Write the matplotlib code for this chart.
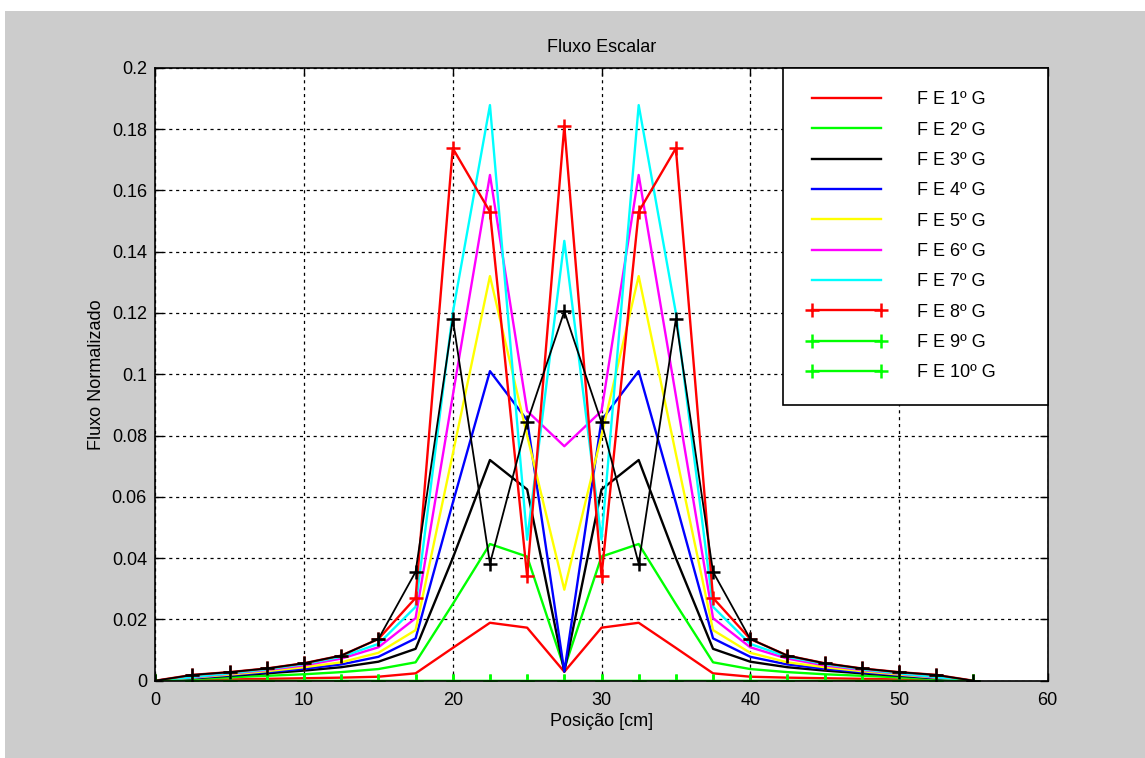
import matplotlib
matplotlib.use("Agg")
import matplotlib.pyplot as plt
from matplotlib.patches import Rectangle
from matplotlib.ticker import FixedLocator, FuncFormatter

plt.rcParams['font.family'] = ['Liberation Sans', 'DejaVu Sans']

# ---------------- data ----------------
positions = [0, 2.5, 5, 7.5, 10, 12.5, 15, 17.5, 20, 22.5, 25, 27.5,
             30, 32.5, 35, 37.5, 40, 42.5, 45, 47.5, 50, 52.5, 55]

g1 = [0, 0.0002, 0.0004, 0.0006, 0.0008, 0.0010, 0.0013, 0.0024, 0.0107, 0.0189, 0.0173, 0.0029,
      0.0173, 0.0189, 0.0107, 0.0024, 0.0013, 0.0010, 0.0008, 0.0006, 0.0004, 0.0002, 0]
g2 = [0, 0.0006, 0.0011, 0.0016, 0.0021, 0.0028, 0.0038, 0.0060, 0.0250, 0.0446, 0.0405, 0.0040,
      0.0405, 0.0446, 0.0250, 0.0060, 0.0038, 0.0028, 0.0021, 0.0016, 0.0011, 0.0006, 0]
g3 = [0, 0.0008, 0.0016, 0.0024, 0.0033, 0.0044, 0.0062, 0.0104, 0.0400, 0.0720, 0.0624, 0.0030,
      0.0624, 0.0720, 0.0400, 0.0104, 0.0062, 0.0044, 0.0033, 0.0024, 0.0016, 0.0008, 0]
g4 = [0, 0.0009, 0.0018, 0.0028, 0.0039, 0.0053, 0.0078, 0.0138, 0.0580, 0.1010, 0.0850, 0.0030,
      0.0850, 0.1010, 0.0580, 0.0138, 0.0078, 0.0053, 0.0039, 0.0028, 0.0018, 0.0009, 0]
g5 = [0, 0.0010, 0.0020, 0.0031, 0.0044, 0.0060, 0.0091, 0.0165, 0.0740, 0.1320, 0.0800, 0.0297,
      0.0800, 0.1320, 0.0740, 0.0165, 0.0091, 0.0060, 0.0044, 0.0031, 0.0020, 0.0010, 0]
g6 = [0, 0.0011, 0.0023, 0.0035, 0.0050, 0.0072, 0.0109, 0.0204, 0.0930, 0.1650, 0.0880, 0.0765,
      0.0880, 0.1650, 0.0930, 0.0204, 0.0109, 0.0072, 0.0050, 0.0035, 0.0023, 0.0011, 0]
g7 = [0, 0.0012, 0.0024, 0.0037, 0.0054, 0.0078, 0.0120, 0.0241, 0.1200, 0.1878, 0.0460, 0.1435,
      0.0460, 0.1878, 0.1200, 0.0241, 0.0120, 0.0078, 0.0054, 0.0037, 0.0024, 0.0012, 0]
g8 = [0, 0.0019, 0.0028, 0.0040, 0.0057, 0.0082, 0.0136, 0.0270, 0.1737, 0.1530, 0.0341, 0.1810,
      0.0341, 0.1530, 0.1737, 0.0270, 0.0136, 0.0082, 0.0057, 0.0040, 0.0028, 0.0019, 0]
g9 = [0, 0, 0, 0, 0, 0, 0, 0, 0, 0, 0, 0, 0, 0, 0, 0, 0, 0, 0, 0, 0, 0, 0]
g10 = [0, 0, 0, 0, 0, 0, 0, 0, 0, 0, 0, 0, 0, 0, 0, 0, 0, 0, 0, 0, 0, 0, 0]
extra = [0, 0.0019, 0.0028, 0.0040, 0.0057, 0.0082, 0.0136, 0.0355, 0.1180, 0.0382, 0.0843, 0.1205,
         0.0843, 0.0382, 0.1180, 0.0355, 0.0136, 0.0082, 0.0057, 0.0040, 0.0028, 0.0019, 0]

labels = ['F E 1º G', 'F E 2º G', 'F E 3º G', 'F E 4º G', 'F E 5º G',
          'F E 6º G', 'F E 7º G', 'F E 8º G', 'F E 9º G', 'F E 10º G']
series = [g1, g2, g3, g4, g5, g6, g7, g8, g9, g10]
colors = ['#ff0000', '#00ff00', '#000000', '#0000ff', '#ffff00',
          '#ff00ff', '#00ffff', '#ff0000', '#00ff00', '#00ff00']
markers = ['', '', '', '', '', '', '', '+', '+', '+']

xticks = [0, 10, 20, 30, 40, 50, 60]
yticks = [0, 0.02, 0.04, 0.06, 0.08, 0.1, 0.12, 0.14, 0.16, 0.18, 0.2]

# ---------------- figure ----------------
W, H = 1145, 758
fig = plt.figure(figsize=(W / 100, H / 100), dpi=100, facecolor='white')
fig.patches.append(Rectangle((5 / W, 0), 1 - 5 / W, 1 - 11 / H,
                             transform=fig.transFigure, facecolor='#cccccc',
                             edgecolor='none', zorder=-10))

ax_l, ax_r, ax_t, ax_b = 155.3, 1047.7, 67.7, 680.7
ax = fig.add_axes([ax_l / W, 1 - ax_b / H, (ax_r - ax_l) / W, (ax_b - ax_t) / H])
ax.set_facecolor('white')

FS = 13
for ys, lab, col, mk in zip(series, labels, colors, markers):
    ax.plot(positions, ys, color=col, lw=1.7, marker=mk if mk else None,
            markersize=10, markeredgewidth=1.8, label=lab)
ax.plot(positions, extra, color='black', lw=1.3, marker='+',
        markersize=10, markeredgewidth=1.8)

ax.set_xlim(0, 60)
ax.set_ylim(0, 0.2)
ax.xaxis.set_major_locator(FixedLocator(xticks))
ax.yaxis.set_major_locator(FixedLocator(yticks))
ax.yaxis.set_major_formatter(FuncFormatter(lambda v, p: ('%g' % round(v, 4))))
ax.xaxis.set_major_formatter(FuncFormatter(lambda v, p: ('%g' % v)))
ax.tick_params(direction='in', length=6, width=1, top=True, right=True,
               labelsize=FS, colors='black')
ax.tick_params(axis='x', pad=8)
ax.tick_params(axis='y', pad=6)
for s in ax.spines.values():
    s.set_linewidth(1.2)
    s.set_color('black')

ax.grid(True, color='black', linestyle=(0, (2.5, 3)), linewidth=0.9)
ax.set_axisbelow(True)

ax.set_title('Fluxo Escalar', fontsize=FS, pad=11)
ax.set_xlabel('Posição [cm]', fontsize=FS, va='center')
ax.xaxis.set_label_coords(0.5, (ax_b - 722) / (ax_b - ax_t))
ax.set_ylabel('Fluxo Normalizado', fontsize=FS, va='center')
ax.yaxis.set_label_coords((96.7 - ax_l) / (ax_r - ax_l), 0.5)

# legend box
lx0 = (782.7 - ax_l) / (ax_r - ax_l)
leg = ax.legend(loc='upper left', bbox_to_anchor=(lx0, 0, 1 - lx0, 1.0),
                mode='expand', borderaxespad=0, fontsize=FS, numpoints=2,
                handlelength=4.43, handletextpad=1.7, labelspacing=0.74,
                borderpad=1.3, fancybox=False, framealpha=1, edgecolor='black',
                facecolor='white')
leg.get_frame().set_linewidth(1.2)
leg.set_zorder(10)

fig.savefig('out.png', dpi=100, facecolor=fig.get_facecolor())
